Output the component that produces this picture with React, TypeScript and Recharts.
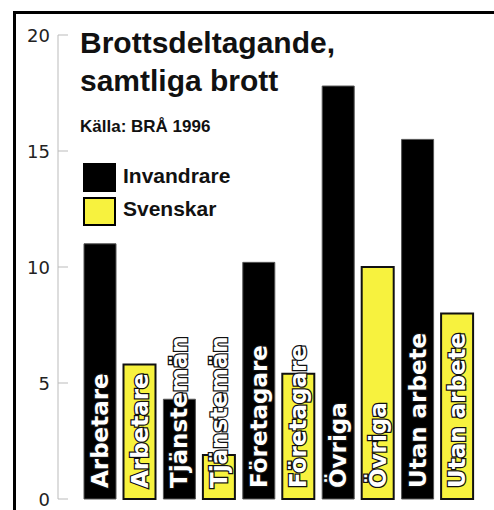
import React from 'react';
import { BarChart, Bar, XAxis, YAxis, LabelList } from 'recharts';

// Brottsdeltagande per grupp, BRÅ 1996
const categories = ['Arbetare', 'Tjänstemän', 'Företagare', 'Övriga', 'Utan arbete'];
const invandrare = [11.0, 4.3, 10.2, 17.8, 15.5];
const svenskar = [5.8, 1.9, 5.4, 10.0, 8.0];
const yTicks = [0, 5, 10, 15, 20];

const YELLOW = '#f7f23e';
const SANS = '"Liberation Sans", Arial, sans-serif';
const DEJAVU = '"DejaVu Sans", Verdana, sans-serif';

const series = [
  { key: 'invandrare', name: 'Invandrare', color: '#000' },
  { key: 'svenskar', name: 'Svenskar', color: YELLOW },
];

const data = categories.map((name, i) => ({
  name,
  invandrare: invandrare[i],
  svenskar: svenskar[i],
}));

const YTick = (props: any) => {
  const { x, y, payload } = props;
  return (
    <g>
      <line x1={x} x2={x + 10} y1={y} y2={y} stroke="#bbb" strokeWidth={1} />
      <text x={x - 8} y={y} dy={7} textAnchor="end" fontSize={18} fill="#222" fontFamily={DEJAVU}>
        {payload.value}
      </text>
    </g>
  );
};

// vertical text inside each bar, white with a dark outline
const barLabel = (props: any) => {
  const vb = props.viewBox || props;
  const x = Number(vb.x);
  const y = Number(vb.y);
  const w = Number(vb.width);
  const h = Number(vb.height);
  const cx = x + w / 2 + 8;
  const by = y + h - 11;
  return (
    <text
      transform={`translate(${cx},${by}) rotate(-90)`}
      x={0}
      y={0}
      fontSize={23}
      fontWeight="bold"
      fontFamily={DEJAVU}
      fill="#fff"
      stroke="#111"
      strokeWidth={2.5}
      paintOrder="stroke"
    >
      {props.value}
    </text>
  );
};

export default function App() {
  return (
    <div style={{ position: 'absolute', left: 0, top: 0, width: 494, height: 510, background: '#fff', overflow: 'hidden' }}>
      <div
        style={{
          position: 'absolute',
          left: 13,
          top: 11,
          width: 520,
          height: 540,
          borderTop: '3px solid #000',
          borderLeft: '3px solid #000',
        }}
      />
      <BarChart
        width={494}
        height={510}
        data={data}
        margin={{ top: 35, right: 0, bottom: 11, left: 0 }}
        barSize={32}
        barGap={7.5}
      >
        <XAxis dataKey="name" tick={false} tickLine={false} height={0} axisLine={{ stroke: '#bbb' }} padding={{ left: 22, right: 17 }} />
        <YAxis
          width={58}
          domain={[0, 20]}
          ticks={yTicks}
          tickSize={0}
          tickMargin={0}
          tickLine={false}
          axisLine={{ stroke: '#bbb' }}
          tick={<YTick />}
          interval={0}
        />
        <Bar dataKey="invandrare" name="Invandrare" fill="#000" stroke="#555" strokeWidth={1} isAnimationActive={false}>
          <LabelList dataKey="name" content={barLabel} />
        </Bar>
        <Bar dataKey="svenskar" name="Svenskar" fill={YELLOW} stroke="#111" strokeWidth={2} isAnimationActive={false}>
          <LabelList dataKey="name" content={barLabel} />
        </Bar>
      </BarChart>
      <svg width={494} height={510} style={{ position: 'absolute', left: 0, top: 0, pointerEvents: 'none' }}>
        <text x={80} y={53} fontFamily={SANS} fontWeight="bold" fontSize={30} fill="#111">
          Brottsdeltagande,
        </text>
        <text x={80} y={91} fontFamily={SANS} fontWeight="bold" fontSize={30} fill="#111">
          samtliga brott
        </text>
        <text x={80} y={132} fontFamily={SANS} fontWeight="bold" fontSize={17} fill="#111">
          Källa: BRÅ 1996
        </text>
        {series.map((s, i) => (
          <g key={s.key}>
            <rect x={84} y={164 + i * 34} width={31} height={27} fill={s.color} stroke="#000" strokeWidth={2} />
            <text x={123} y={183 + i * 33} fontFamily={SANS} fontWeight="bold" fontSize={21} fill="#111">
              {s.name}
            </text>
          </g>
        ))}
      </svg>
    </div>
  );
}
